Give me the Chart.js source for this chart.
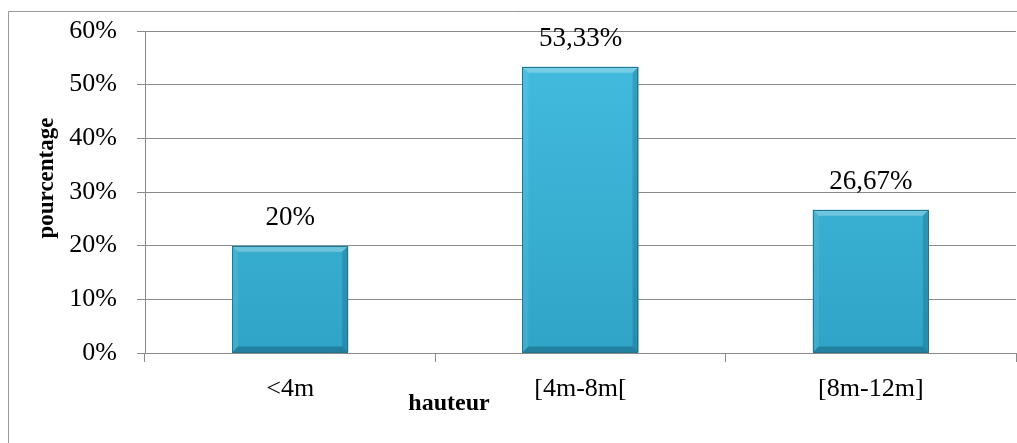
<!DOCTYPE html>
<html>
<head>
<meta charset="utf-8">
<script src="https://cdn.jsdelivr.net/npm/chart.js@4.4.1/dist/chart.umd.min.js"></script>
<style>
  html, body { margin: 0; padding: 0; background: #ffffff; }
  #wrap { width: 1017px; height: 443px; position: relative; }
</style>
</head>
<body>
<div id="wrap"><canvas id="c" width="1017" height="443"></canvas></div>
<script>
// Répartition des arbres par classe de hauteur
const categories = ['<4m', '[4m-8m[', '[8m-12m]'];
const percentages = [20, 53.33, 26.67];
const yTicks = [0, 10, 20, 30, 40, 50, 60];
const xTitle = 'hauteur';
const yTitle = 'pourcentage';

const SERIF = '"Liberation Serif", "Times New Roman", serif';
const GRID = '#8a8a8a';

function fmtPct(v) {
  return Number.isInteger(v) ? v + '%' : v.toFixed(2).replace('.', ',') + '%';
}

// Cadre du graphique, titres des axes, relief des barres et étiquettes
const decor = {
  id: 'decor',
  beforeDraw(chart) {
    const ctx = chart.ctx;
    ctx.save();
    ctx.strokeStyle = '#9a9a9a';
    ctx.lineWidth = 1;
    ctx.beginPath();
    ctx.moveTo(8.5, 450);
    ctx.lineTo(8.5, 11.5);
    ctx.lineTo(1030, 11.5);
    ctx.stroke();
    ctx.restore();
  },
  afterDatasetsDraw(chart) {
    const ctx = chart.ctx;
    const area = chart.chartArea;
    const meta = chart.getDatasetMeta(0);
    ctx.save();
    meta.data.forEach((bar, i) => {
      const w = bar.width;
      const l = bar.x - w / 2, r = bar.x + w / 2;
      const t = bar.y, b = bar.base;
      const e = 6;
      // biseau haut (clair)
      ctx.fillStyle = 'rgba(255,255,255,0.28)';
      ctx.beginPath();
      ctx.moveTo(l, t); ctx.lineTo(r, t); ctx.lineTo(r - e, t + e); ctx.lineTo(l + e, t + e);
      ctx.closePath(); ctx.fill();
      // biseau gauche
      ctx.fillStyle = 'rgba(255,255,255,0.08)';
      ctx.beginPath();
      ctx.moveTo(l, t); ctx.lineTo(l + e, t + e); ctx.lineTo(l + e, b - e); ctx.lineTo(l, b);
      ctx.closePath(); ctx.fill();
      // biseau droit (sombre)
      ctx.fillStyle = 'rgba(0,40,60,0.18)';
      ctx.beginPath();
      ctx.moveTo(r, t); ctx.lineTo(r - e, t + e); ctx.lineTo(r - e, b - e); ctx.lineTo(r, b);
      ctx.closePath(); ctx.fill();
      // biseau bas (sombre)
      ctx.fillStyle = 'rgba(0,40,60,0.28)';
      ctx.beginPath();
      ctx.moveTo(l, b); ctx.lineTo(r, b); ctx.lineTo(r - e, b - e); ctx.lineTo(l + e, b - e);
      ctx.closePath(); ctx.fill();
      // contour
      ctx.strokeStyle = '#23768e';
      ctx.lineWidth = 1;
      ctx.strokeRect(Math.round(l) + 0.5, Math.round(t) + 0.5, Math.round(w) - 1, Math.round(b - t) - 1);

      // étiquette de valeur
      ctx.fillStyle = '#000000';
      ctx.font = '27px ' + SERIF;
      ctx.textAlign = 'center';
      ctx.textBaseline = 'middle';
      ctx.fillText(fmtPct(percentages[i]), bar.x, t - 28);
    });

    ctx.fillStyle = '#000000';
    ctx.textAlign = 'center';
    ctx.textBaseline = 'middle';

    // titre de l'axe horizontal
    ctx.font = 'bold 24px ' + SERIF;
    ctx.fillText(xTitle, area.left + 304, area.bottom + 51);

    // titre de l'axe vertical
    ctx.save();
    ctx.translate(47, 178);
    ctx.rotate(-Math.PI / 2);
    ctx.font = 'bold 23px ' + SERIF;
    ctx.fillText(yTitle, 0, 0);
    ctx.restore();

    ctx.restore();
  }
};

const canvas = document.getElementById('c');

new Chart(canvas, {
  type: 'bar',
  data: {
    labels: categories,
    datasets: [{
      data: percentages,
      backgroundColor(context) {
        const chart = context.chart;
        const area = chart.chartArea;
        if (!area) return '#39b3d6';
        const g = chart.ctx.createLinearGradient(0, area.top, 0, area.bottom);
        g.addColorStop(0, '#44bde0');
        g.addColorStop(1, '#30a4c7');
        return g;
      },
      borderWidth: 0,
      barPercentage: 0.4,
      categoryPercentage: 1.0
    }]
  },
  options: {
    responsive: false,
    animation: false,
    devicePixelRatio: 1,
    layout: { padding: { top: 31, right: 1, left: 0, bottom: 0 } },
    plugins: {
      legend: { display: false },
      tooltip: { enabled: false }
    },
    scales: {
      x: {
        offset: true,
        grid: {
          offset: true,
          drawOnChartArea: false,
          drawTicks: true,
          tickLength: 9,
          color: GRID
        },
        border: { color: GRID, width: 1 },
        ticks: {
          color: '#000000',
          font: { family: SERIF, size: 26 },
          padding: 12
        },
        afterFit(scale) {
          scale.height = 90;
          scale.paddingLeft = 0;
          scale.paddingRight = 0;
        }
      },
      y: {
        min: 0,
        max: 60,
        afterBuildTicks(scale) {
          scale.ticks = yTicks.map(v => ({ value: v }));
        },
        grid: {
          color: GRID,
          tickLength: 8,
          drawTicks: true
        },
        border: { color: GRID, width: 1 },
        ticks: {
          color: '#000000',
          font: { family: SERIF, size: 26 },
          padding: 20,
          callback: v => v + '%'
        },
        afterFit(scale) {
          scale.width = 145;
          scale.paddingTop = 0;
          scale.paddingBottom = 0;
        }
      }
    }
  },
  plugins: [decor]
});
</script>
</body>
</html>
